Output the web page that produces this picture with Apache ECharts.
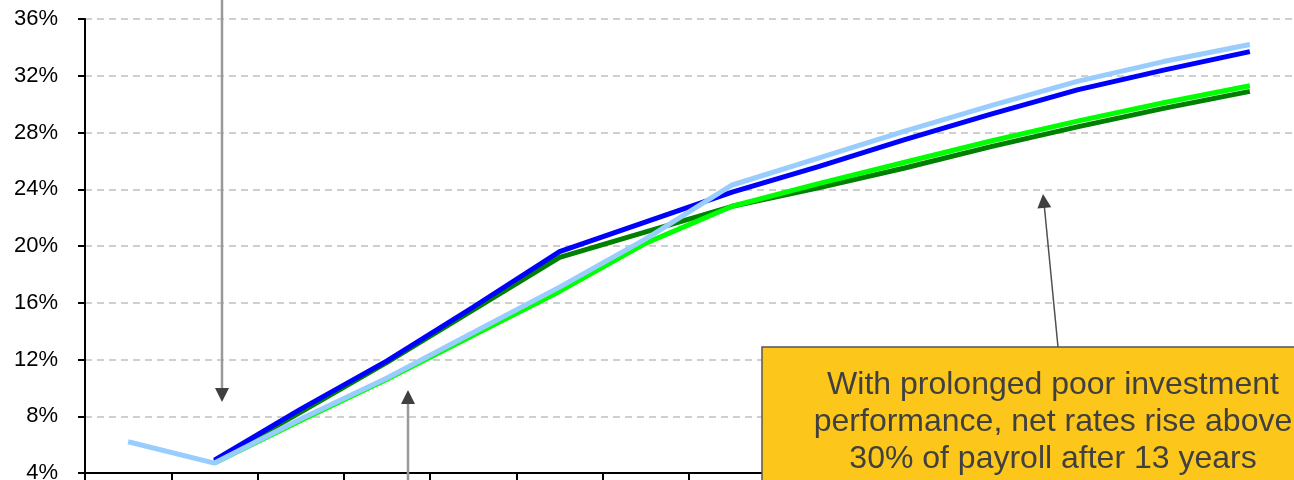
<!DOCTYPE html>
<html>
<head>
<meta charset="utf-8">
<script src="https://cdn.jsdelivr.net/npm/echarts@6/dist/echarts.min.js"></script>
<style>
  html, body { margin: 0; padding: 0; background: #fff; }
  #chart { width: 1294px; height: 480px; }
</style>
</head>
<body>
<div id="chart"></div>
<script>
// years from now (x axis labels fall below the visible area)
var years = ['0', '1', '2', '3', '4', '5', '6', '7', '8', '9', '10', '11', '12', '13'];

// net contribution rate, % of payroll
var darkGreenRates = [null, 4.8, 8.3, 11.8, 15.5, 19.2, 21.0, 22.8, 24.1, 25.5, 27.0, 28.4, 29.7, 30.9];
var greenRates     = [null, 4.7, 7.7, 10.6, 13.7, 16.8, 20.2, 22.8, 24.4, 25.9, 27.4, 28.8, 30.1, 31.3];
var blueRates      = [null, 4.9, 8.5, 11.9, 15.7, 19.6, 21.7, 23.8, 25.6, 27.5, 29.3, 31.0, 32.4, 33.7];
var lightBlueRates = [6.2, 4.7, 7.8, 10.7, 13.9, 17.1, 20.5, 24.3, 26.2, 28.1, 29.9, 31.6, 33.0, 34.2];

var yTicks = [4, 8, 12, 16, 20, 24, 28, 32, 36];

var noteText = 'With prolonged poor investment\nperformance, net rates rise above\n30% of payroll after 13 years';

var chart = echarts.init(document.getElementById('chart'));

function lineSeries(name, data, color) {
  return {
    name: name,
    type: 'line',
    data: data,
    symbol: 'none',
    connectNulls: false,
    lineStyle: { color: color, width: 5 },
    itemStyle: { color: color },
    emphasis: { disabled: true }
  };
}

var option = {
  animation: false,
  backgroundColor: '#ffffff',
  grid: { left: 85, right: 1, top: 19, bottom: 7, containLabel: false, outerBoundsMode: 'none' },
  xAxis: {
    type: 'category',
    data: years,
    boundaryGap: true,
    axisLine: { lineStyle: { color: '#000', width: 2 } },
    axisTick: { show: true, inside: false, length: 7, lineStyle: { color: '#000', width: 2 } },
    axisLabel: { show: false },
    splitLine: { show: false }
  },
  yAxis: {
    type: 'value',
    min: yTicks[0],
    max: yTicks[yTicks.length - 1],
    interval: 4,
    axisLine: { show: true, lineStyle: { color: '#000', width: 2 } },
    axisTick: { show: true, inside: false, length: 7, lineStyle: { color: '#000', width: 2 } },
    axisLabel: {
      margin: 27,
      color: '#000',
      fontFamily: '"Liberation Sans", Arial, sans-serif',
      fontSize: 22,
      formatter: '{value}%'
    },
    splitLine: {
      show: true,
      lineStyle: { color: '#c0c0c0', width: 1.5, type: [7, 5] }
    }
  },
  series: [
    lineSeries('Dark green', darkGreenRates, '#008000'),
    lineSeries('Green', greenRates, '#00ff00'),
    lineSeries('Blue', blueRates, '#0000ff'),
    lineSeries('Light blue', lightBlueRates, '#99ccff')
  ],
  graphic: [
    // arrow from the top pointing down
    { type: 'line', z: 100, shape: { x1: 222, y1: 0, x2: 222, y2: 390 },
      style: { stroke: '#9a9a9a', lineWidth: 2.5 } },
    { type: 'polygon', z: 101, shape: { points: [[215, 388], [229, 388], [222, 402]] },
      style: { fill: '#404040' } },
    // arrow from the bottom pointing up
    { type: 'line', z: 100, shape: { x1: 408, y1: 480, x2: 408, y2: 402 },
      style: { stroke: '#9a9a9a', lineWidth: 2.5 } },
    { type: 'polygon', z: 101, shape: { points: [[401, 404], [415, 404], [408, 390]] },
      style: { fill: '#404040' } },
    // callout box
    { type: 'rect', z: 100, shape: { x: 762, y: 347, width: 600, height: 200 },
      style: { fill: '#fcc71a', stroke: '#555555', lineWidth: 1.5 } },
    { type: 'text', z: 102, x: 1053, y: 367,
      style: {
        text: noteText,
        fill: '#404040',
        font: '32px "Liberation Sans", Arial, sans-serif',
        lineHeight: 37,
        align: 'center',
        verticalAlign: 'top'
      } },
    // arrow from the box up to the green lines
    { type: 'line', z: 100, shape: { x1: 1058, y1: 347, x2: 1044.4, y2: 207 },
      style: { stroke: '#505050', lineWidth: 1.5 } },
    { type: 'polygon', z: 101, shape: { points: [[1051.3, 207.2], [1037.4, 208.6], [1043, 194]] },
      style: { fill: '#404040' } }
  ]
};

chart.setOption(option);
</script>
</body>
</html>
